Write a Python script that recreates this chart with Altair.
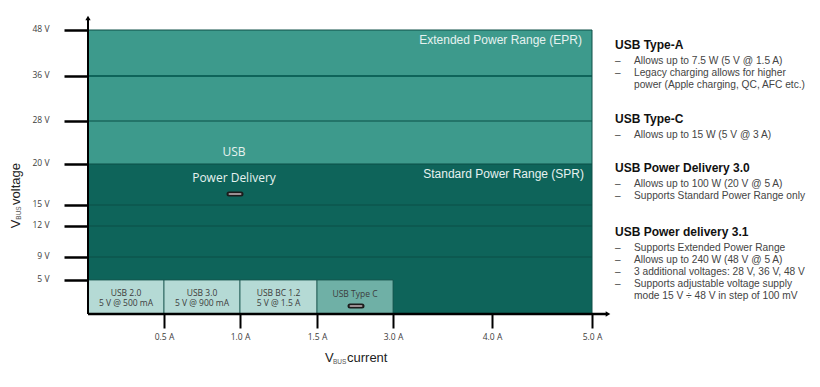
import altair as alt
import pandas as pd

# --- data -----------------------------------------------------------------
x_ticks = [0.5, 1.0, 1.5, 3.0, 4.0, 5.0]
y_ticks = [5, 9, 12, 15, 20, 28, 36, 48]
x_domain = [0, 0.5, 1.0, 1.5, 3.0, 4.0, 5.0]
y_domain = [0, 5, 9, 12, 15, 20, 28, 36, 48]

band_from = [0, 20]
band_to = [20, 48]
band_name = ["SPR", "EPR"]

box_names = ["USB 2.0", "USB 3.0", "USB BC 1.2", "USB Type C"]
box_sub = ["5 V @ 500 mA", "5 V @ 900 mA", "5 V @ 1.5 A", ""]
box_from = [0, 0.5, 1.0, 1.5]
box_to = [0.5, 1.0, 1.5, 3.0]
box_kind = ["light", "light", "light", "mid"]

panel_titles = ["USB Type-A", "USB Type-C", "USB Power Delivery 3.0", "USB Power delivery 3.1"]
panel_lines = [
    ["Allows up to 7.5 W (5 V @ 1.5 A)", "Legacy charging allows for higher", "power (Apple charging, QC, AFC etc.)"],
    ["Allows up to 15 W (5 V @ 3 A)"],
    ["Allows up to 100 W (20 V @ 5 A)", "Supports Standard Power Range only"],
    ["Supports Extended Power Range", "Allows up to 240 W (48 V @ 5 A)", "3 additional voltages: 28 V, 36 V, 48 V",
     "Supports adjustable voltage supply", "mode 15 V ÷ 48 V in step of 100 mV"],
]
panel_dash = [[True, True, False], [True], [True, True], [True, True, True, True, False]]

# --- layout ---------------------------------------------------------------
W, H = 504, 284
x_range = [0, 76, 152, 229, 305, 404, 504]
y_range = [284, 250, 227, 196, 175, 134, 91, 46, 0]

xs = alt.Scale(domain=x_domain, range=x_range)
ys = alt.Scale(domain=y_domain, range=y_range)
FONT = "Liberation Sans"
LAB = "Open Sans"
INK = "#3c3c3c"

x_axis = alt.Axis(values=x_ticks, labelExpr="format(datum.value,'.1f')+' A'", title=None,
                  grid=False, domain=False, tickColor="#000000", tickWidth=2, tickSize=14, labelFont=LAB,
                  labelFontSize=8.5, labelColor=INK, labelPadding=4, labelFlush=False, labelOverlap=False)
y_axis = alt.Axis(values=y_ticks, labelExpr="datum.value+' V'", title=None,
                  grid=False, domain=False, tickColor="#000000", tickWidth=2.5, tickSize=24, labelFont=LAB,
                  labelFontSize=8.5, labelColor=INK, labelPadding=15, labelOffset=-2, labelOverlap=False)


def X(f):
    return alt.X(f, scale=xs, axis=x_axis)


def Y(f):
    return alt.Y(f, scale=ys, axis=y_axis)


bands = pd.DataFrame({"x": [0, 0], "x2": [5, 5], "y": band_from, "y2": band_to, "n": band_name})
band_layer = alt.Chart(bands).mark_rect().encode(
    x=X("x:Q"), x2="x2:Q", y=Y("y:Q"), y2="y2:Q",
    color=alt.Color("n:N", scale=alt.Scale(domain=["SPR", "EPR"], range=["#0e645a", "#3d9a8c"]), legend=None),
)

grid_vals = [v for v in y_ticks if v not in (5, 48)]
grid_df = pd.DataFrame({"v": grid_vals})
grid_layer = alt.Chart(grid_df[grid_df.v != 36]).mark_rule(color="#0b4f47", strokeWidth=1).encode(y=Y("v:Q"))
grid_36 = alt.Chart(grid_df[grid_df.v == 36]).mark_rule(color="#0e645a", strokeWidth=2).encode(y=Y("v:Q"))

top_line = alt.Chart(pd.DataFrame({"v": [48]})).mark_rule(color="#0e4f47", strokeWidth=1).encode(y=Y("v:Q"))
right_line = alt.Chart(pd.DataFrame({"v": [5]})).mark_rule(color="#0e4f47", strokeWidth=1).encode(x=X("v:Q"))

boxes = pd.DataFrame({"a": box_from, "b": box_to, "k": box_kind, "y": [0] * 4, "y2": [5] * 4})
box_layer = alt.Chart(boxes).mark_rect(stroke="#14524a", strokeWidth=0.8).encode(
    x=X("a:Q"), x2="b:Q", y=Y("y:Q"), y2="y2:Q",
    fill=alt.Fill("k:N", scale=alt.Scale(domain=["light", "mid"], range=["#b5dad5", "#6fb0a6"]), legend=None))

box_text = []
for i, name in enumerate(box_names):
    mid = (box_from[i] + box_to[i]) / 2
    rows = [(name, 263 if box_sub[i] else 264)]
    if box_sub[i]:
        rows.append((box_sub[i], 273))
    for t, py in rows:
        box_text.append(alt.Chart(pd.DataFrame({"m": [mid], "t": [t]})).mark_text(
            font=LAB, fontSize=8.5, color=INK, baseline="middle").encode(
            x=X("m:Q"), y=alt.value(py), text="t:N"))


def free_text(t, x, y, **kw):
    return alt.Chart(pd.DataFrame({"t": [t]})).mark_text(**kw).encode(x=alt.value(x), y=alt.value(y), text="t:N")


def icon(xc, yc):
    d = pd.DataFrame({"x": [0]})
    return [
        alt.Chart(d).mark_rule(color="#1c1c1c", strokeWidth=5, strokeCap="round").encode(
            x=alt.value(xc - 6), x2=alt.value(xc + 6), y=alt.value(yc)),
        alt.Chart(d).mark_rule(color="#9a8f92", strokeWidth=2, strokeCap="round").encode(
            x=alt.value(xc - 5.5), x2=alt.value(xc + 5.5), y=alt.value(yc)),
    ]


one = pd.DataFrame({"x": [0]})
arrows = [
    alt.Chart(one).mark_rule(color="#000000", strokeWidth=2).encode(
        x=alt.value(0), y=alt.value(-10), y2=alt.value(H)),
    alt.Chart(one).mark_rule(color="#000000", strokeWidth=2.5).encode(
        x=alt.value(0), x2=alt.value(W + 14), y=alt.value(H)),
    alt.Chart(one).mark_point(shape="triangle-up", filled=True, color="#000000", size=28, opacity=1).encode(
        x=alt.value(0), y=alt.value(-12)),
    alt.Chart(one).mark_point(shape="triangle-right", filled=True, color="#000000", size=28, opacity=1).encode(
        x=alt.value(W + 16), y=alt.value(H)),
]

WHITE = "#e6f2f0"
TITLE = dict(font=FONT, fontSize=13, color="#222222", baseline="middle")
SUB = dict(font=FONT, fontSize=6.5, color="#555555", baseline="middle")
labels = [
    free_text("USB", 146, 122, font=LAB, fontSize=12, color=WHITE, baseline="middle"),
    free_text("Power Delivery", 146, 148, font=LAB, fontSize=12, color=WHITE, baseline="middle"),
    free_text("Extended Power Range (EPR)", 494, 10, font=FONT, fontSize=12, color=WHITE, align="right", baseline="middle"),
    free_text("Standard Power Range (SPR)", 496, 144, font=FONT, fontSize=12, color=WHITE, align="right", baseline="middle"),
    free_text("V", 237, 328, align="left", **TITLE),
    free_text("BUS", 245, 332, align="left", **SUB),
    free_text("current", 259, 328, align="left", **TITLE),
    free_text("V", -72, 194, angle=270, align="center", **TITLE),
    free_text("BUS", -69, 183, angle=270, align="center", **SUB),
    free_text("voltage", -72, 154, angle=270, align="center", **TITLE),
]

# right-hand text panel
panel_y = [15, 89, 138, 202]
LINE = 12.2
panel_rows = []
for i, title in enumerate(panel_titles):
    panel_rows.append(free_text(title, 527, panel_y[i], font=FONT, fontSize=12, fontWeight="bold",
                                color="#111111", align="left", baseline="middle"))
    for j, line in enumerate(panel_lines[i]):
        yy = panel_y[i] + 15.5 + j * LINE
        panel_rows.append(free_text(line, 546, yy, font=FONT, fontSize=10.2, color="#444444", align="left", baseline="middle"))
        if panel_dash[i][j]:
            panel_rows.append(free_text("–", 527, yy, font=FONT, fontSize=10, color="#444444", align="left", baseline="middle"))

chart = alt.layer(
    band_layer, grid_layer, grid_36, top_line, right_line, box_layer, *box_text,
    *arrows, *labels, *icon(147, 164), *icon(268, 276), *panel_rows,
).properties(
    width=W, height=H,
    autosize=alt.AutoSizeParams(type="none"),
    padding={"left": 80, "top": 22, "right": 220, "bottom": 65},
).configure_view(stroke=None)

chart.save("out.html", embed_options={"renderer": "svg", "actions": False})
